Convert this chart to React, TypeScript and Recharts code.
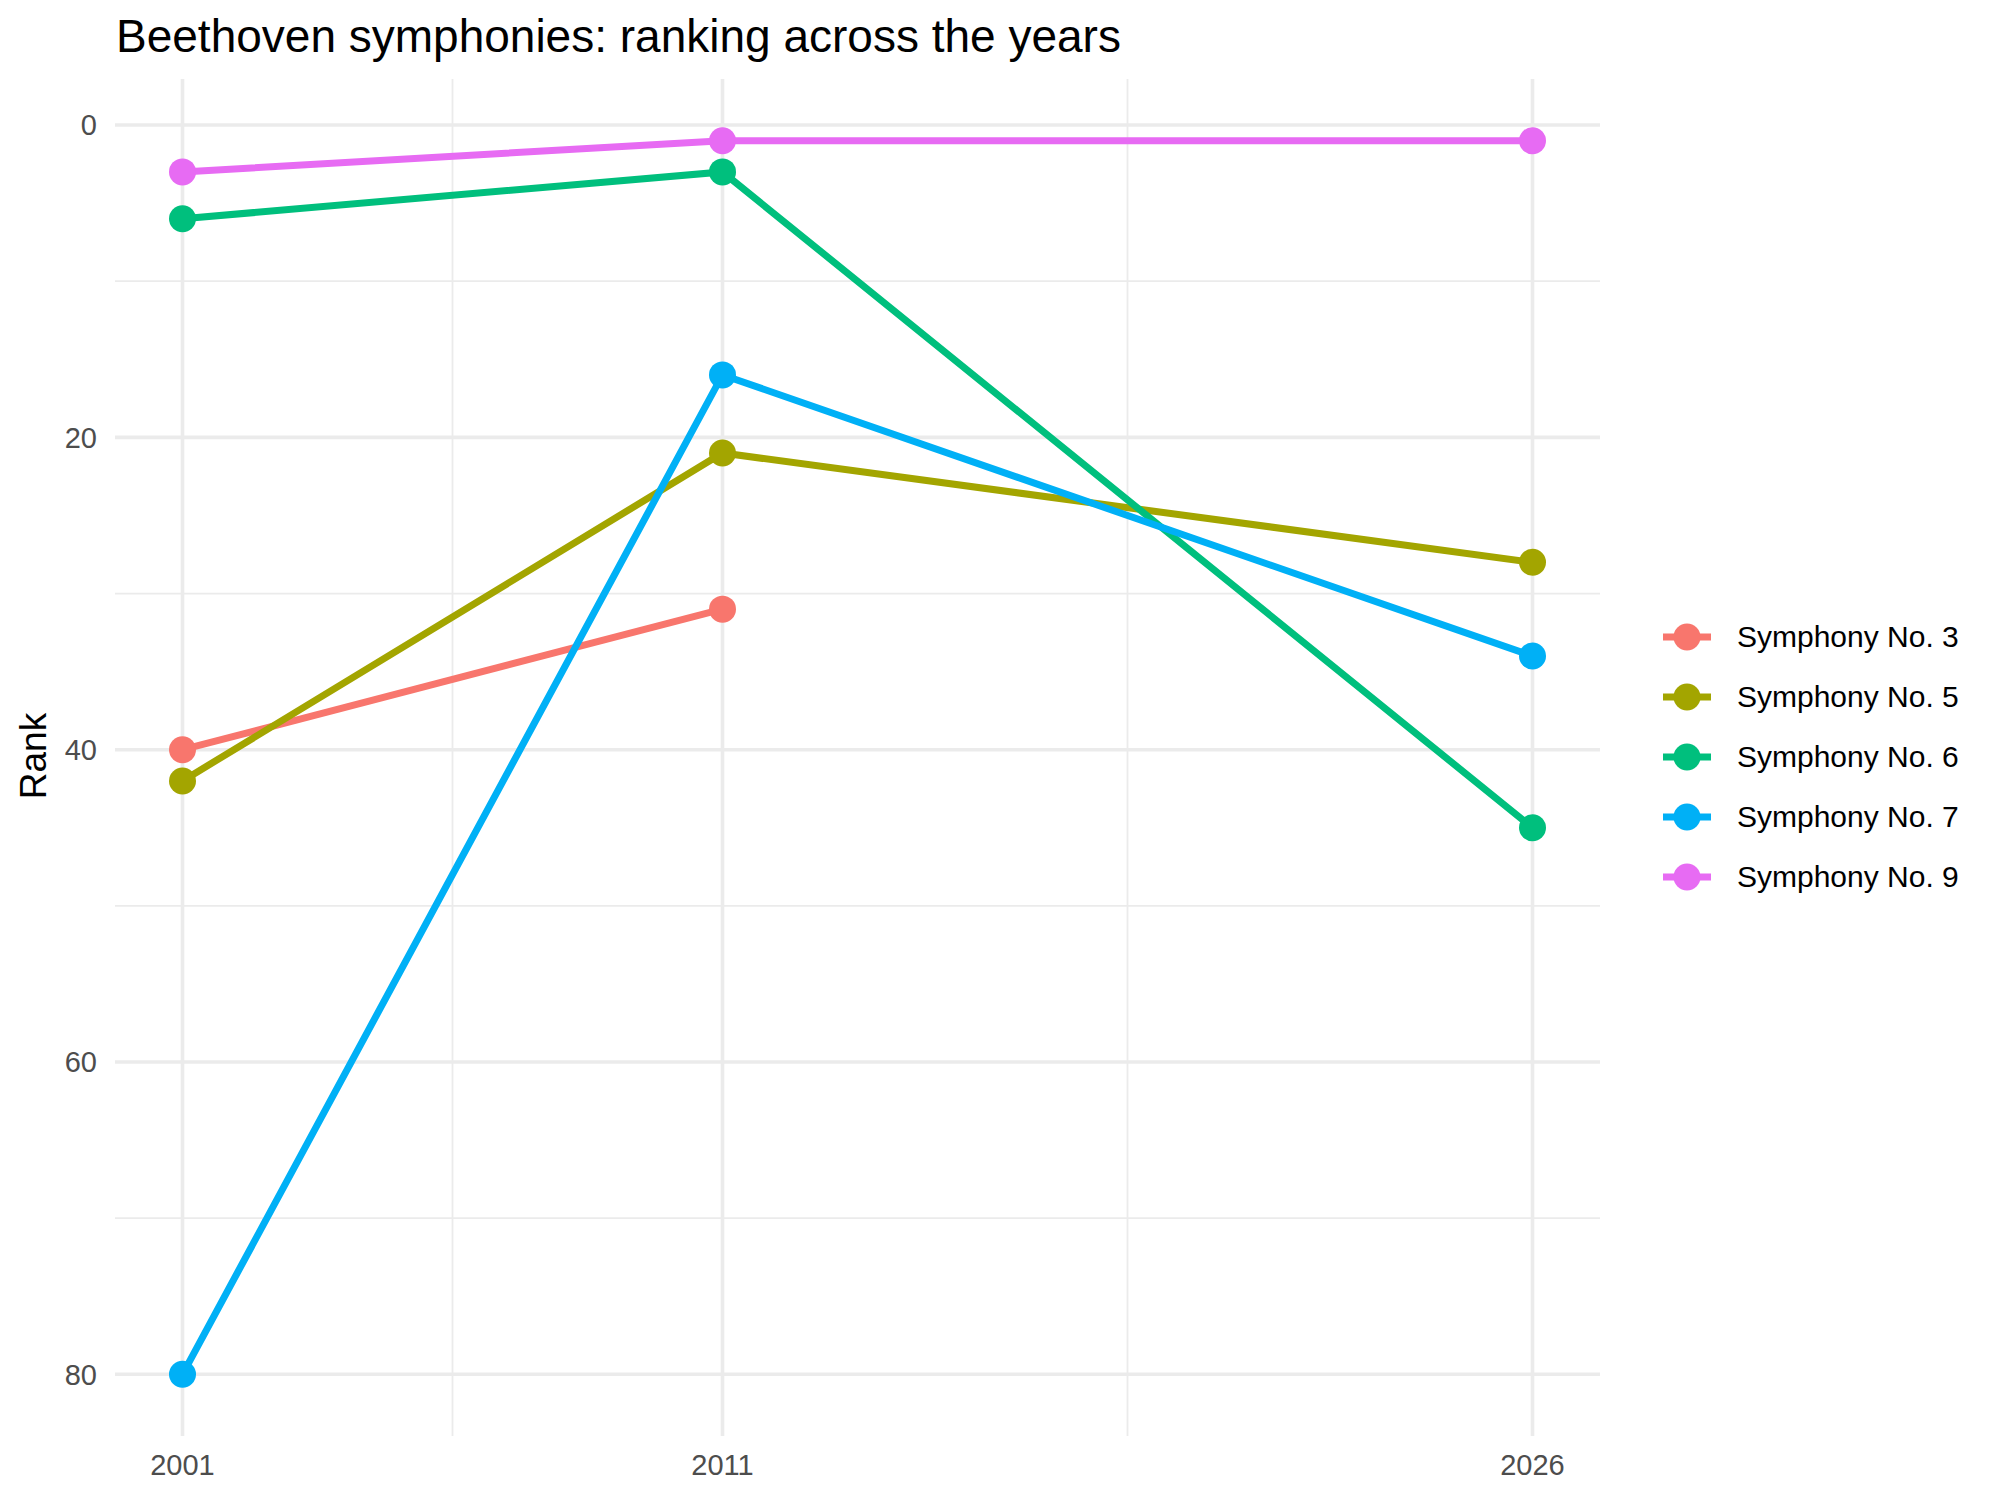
import React from 'react';
import { LineChart, Line, XAxis, YAxis, CartesianGrid, Legend } from 'recharts';

// ---------- data ----------
const years = [2001, 2011, 2026];
const sym3 = [40, 31, null];
const sym5 = [42, 21, 28];
const sym6 = [6, 3, 45];
const sym7 = [80, 16, 34];
const sym9 = [3, 1, 1];

const seriesKeys = ['s3', 's5', 's6', 's7', 's9'];
const seriesNames = ['Symphony No. 3', 'Symphony No. 5', 'Symphony No. 6', 'Symphony No. 7', 'Symphony No. 9'];
const seriesColors = ['#F8766D', '#A3A500', '#00BF7D', '#00B0F6', '#E76BF3'];
const seriesValues = [sym3, sym5, sym6, sym7, sym9];

const yTicks = [0, 20, 40, 60, 80];
const yMinorTicks = [10, 30, 50, 70];
const xMinorTicks = [2006, 2018.5];

const rows = years.map((year, i) => {
  const row: Record<string, number | null> = { year };
  seriesKeys.forEach((k, j) => {
    row[k] = seriesValues[j][i];
  });
  return row;
});

// ---------- styling ----------
const FONT = '"Liberation Sans", Arial, Helvetica, sans-serif';
const GRID = '#EBEBEB';
const LINE_W = 7;
const DOT_R = 13.5;

const LegendBox = () => (
  <div style={{ fontFamily: FONT }}>
    {seriesNames.map((name, i) => (
      <div key={name} style={{ display: 'flex', alignItems: 'center', height: 60 }}>
        <svg width={48} height={60} style={{ display: 'block' }}>
          <line x1={0} x2={48} y1={30} y2={30} stroke={seriesColors[i]} strokeWidth={LINE_W} />
          <circle cx={24} cy={30} r={DOT_R} fill={seriesColors[i]} />
        </svg>
        <span style={{ marginLeft: 26, fontSize: 30, color: '#000', whiteSpace: 'nowrap', lineHeight: '60px' }}>
          {name}
        </span>
      </div>
    ))}
  </div>
);

const RankLabel = () => (
  <text
    x={46}
    y={756}
    transform="rotate(-90 46 756)"
    textAnchor="middle"
    fontSize={37}
    fontFamily={FONT}
    fill="#000"
  >
    Rank
  </text>
);

export default function App() {
  return (
    <div
      style={{
        position: 'absolute',
        left: 0,
        top: 0,
        width: 2000,
        height: 1500,
        background: '#fff',
        fontFamily: FONT,
        overflow: 'hidden',
      }}
    >
      <div
        style={{
          position: 'absolute',
          left: 116,
          top: 13,
          fontSize: 46,
          lineHeight: 1,
          color: '#000',
          whiteSpace: 'nowrap',
          zIndex: 2,
        }}
      >
        Beethoven symphonies: ranking across the years
      </div>
      <LineChart
        width={2000}
        height={1500}
        data={rows}
        margin={{ top: 79, right: 400, bottom: 14, left: 0 }}
      >
        <CartesianGrid
          stroke={GRID}
          strokeWidth={1.8}
          horizontalValues={yMinorTicks}
          verticalValues={xMinorTicks}
          syncWithTicks
        />
        <CartesianGrid stroke={GRID} strokeWidth={3.6} syncWithTicks />
        <XAxis
          type="number"
          dataKey="year"
          domain={[1999.75, 2027.25]}
          ticks={years}
          allowDataOverflow
          axisLine={false}
          tickLine={false}
          tickSize={0}
          tickMargin={18}
          height={50}
          interval={0}
          tick={{ fontSize: 29, fill: '#4D4D4D', fontFamily: FONT }}
        />
        <YAxis
          type="number"
          reversed
          domain={[-2.95, 83.95]}
          ticks={yTicks}
          allowDataOverflow
          axisLine={false}
          tickLine={false}
          tickSize={0}
          tickMargin={18}
          width={115}
          interval={0}
          tick={{ fontSize: 29, fill: '#4D4D4D', fontFamily: FONT }}
          label={() => <RankLabel />}
        />
        {seriesKeys.map((k, i) => (
          <Line
            key={`line-${k}`}
            type="linear"
            dataKey={k}
            name={seriesNames[i]}
            stroke={seriesColors[i]}
            strokeWidth={LINE_W}
            dot={false}
            activeDot={false}
            isAnimationActive={false}
          />
        ))}
        {seriesKeys.map((k, i) => (
          <Line
            key={`dots-${k}`}
            type="linear"
            dataKey={k}
            stroke="none"
            strokeWidth={0}
            legendType="none"
            dot={{ r: DOT_R, fill: seriesColors[i], stroke: 'none', strokeWidth: 0 }}
            activeDot={false}
            isAnimationActive={false}
          />
        ))}
        <Legend
          layout="vertical"
          align="center"
          verticalAlign="middle"
          wrapperStyle={{ left: 1663, top: 607, width: 330, height: 300 }}
          content={() => <LegendBox />}
        />
      </LineChart>
    </div>
  );
}
